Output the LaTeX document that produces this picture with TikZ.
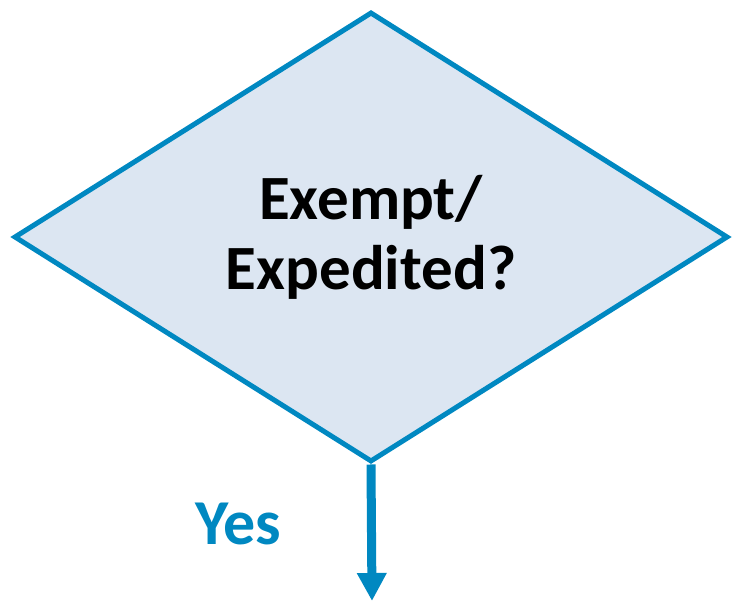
\documentclass[tikz,border=0pt]{standalone}
\usepackage{fontspec}
\setmainfont{Carlito}
\usetikzlibrary{shapes.geometric, arrows.meta, positioning}
\definecolor{flowBlue}{RGB}{0,136,193}
\definecolor{flowFill}{RGB}{220,230,242}

\begin{document}
\begin{tikzpicture}[
    x=1pt, y=1pt,
    decision/.style={diamond, draw=flowBlue, line width=5pt, fill=flowFill, minimum width=714pt, minimum height=450pt, inner sep=0pt, align=center, font=\fontsize{63}{70}\selectfont\bfseries},
    branch/.style={font=\fontsize{64}{65}\selectfont\bfseries, text=flowBlue},
    arrow/.style={-{Triangle[length=28pt, width=28pt]}, line width=9pt, draw=flowBlue}
]
\useasboundingbox (0,0) rectangle (732,602);

\node[decision] (exempt) at (371,365) {Exempt/\\Expedited?};
\coordinate (yesEnd) at (372,1);

\draw[arrow] (exempt.south) -- (yesEnd);

% Branch label
\node[branch] (yes) at (238,78) {Yes};

\end{tikzpicture}
\end{document}
